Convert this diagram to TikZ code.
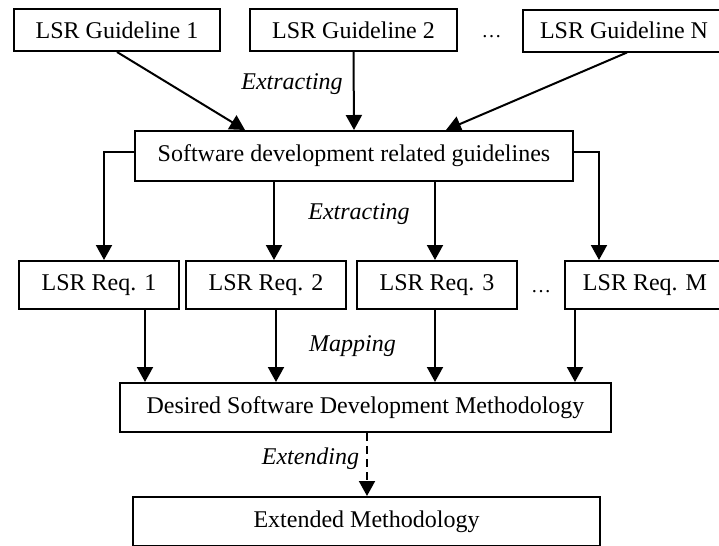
\documentclass[tikz,border=0pt]{standalone}
\usepackage{fontspec}
\setmainfont{Liberation Serif}
\usetikzlibrary{arrows.meta}

\begin{document}
\begin{tikzpicture}[>={Triangle[width=8pt,length=7.5pt]},x=0.5pt,y=-0.5pt,line width=1pt,
        box/.style={draw,minimum width=#1,minimum height=24pt,inner sep=0pt,font=\fontsize{12}{14}\selectfont},
        lbl/.style={inner sep=0pt,font=\fontsize{12}{14}\selectfont\itshape}]
            \useasboundingbox (0,0) rectangle (719,546);
            \clip (0,0) rectangle (719,546);
            % guidelines
            \node[box=103pt,minimum height=21pt] (g1) at (117,30) {LSR Guideline 1};
            \node[box=103.5pt,minimum height=21pt] (g2) at (353.5,30) {LSR Guideline 2};
            \node[box=101pt,minimum height=21pt] (gN) at (624,30.5) {LSR Guideline N};
            \node[inner sep=0pt] (gdots) at (491.5,37) {\ldots};
            \node[box=219pt,minimum height=25pt] (soft) at (354,156) {Software development related guidelines};
            % requirements
            \node[box=80pt] (r1) at (99,285) {LSR Req. 1};
            \node[box=80pt] (r2) at (266,285) {LSR Req. 2};
            \node[box=80pt] (r3) at (437,285) {LSR Req. 3};
            \node[box=80pt] (rM) at (645,285) {LSR Req. M};
            \node[inner sep=0pt] (rdots) at (541,291.5) {\ldots};
            \node[box=245.5pt,minimum height=24.5pt] (des) at (365.5,407.5) {Desired Software Development Methodology};
            \node[box=233.5pt,minimum height=24.5pt] (ext) at (366.5,521.5) {Extended Methodology};
            % labels
            \node[lbl] (l1) at (292,84) {Extracting};
            \node[lbl] (l2) at (359,214) {Extracting};
            \node[lbl] (l3) at (352.5,346.5) {Mapping};
            \node[lbl] (l4) at (310.5,458.5) {Extending};
            % arrows
            \draw[->] (g1.south) -- ([xshift=-54.5pt]soft.north);
            \draw[->] (g2.south) -- (soft.north);
            \draw[->] ([xshift=1.5pt]gN.south) -- ([xshift=-64pt]soft.north east);
            \draw[->] ([yshift=2pt]soft.west) -| ([xshift=2.5pt]r1.north);
            \draw[->] ([xshift=4pt]r2.north |- soft.south) -- ([xshift=4pt]r2.north);
            \draw[->] ([xshift=-1pt]r3.north |- soft.south) -- ([xshift=-1pt]r3.north);
            \draw[->] ([yshift=2pt]soft.east) -| ([xshift=17.5pt]rM.north west);
            \draw[->] ([xshift=23pt]r1.south) -- ([xshift=23pt]r1.south |- des.north);
            \draw[->] ([xshift=5pt]r2.south) -- ([xshift=5pt]r2.south |- des.north);
            \draw[->] ([xshift=-1pt]r3.south) -- ([xshift=-1pt]r3.south |- des.north);
            \draw[->] ([xshift=5.5pt]rM.south west) -- ([xshift=5.5pt]rM.south west |- des.north);
            \draw[->,dash pattern=on 4pt off 2.5pt] ([xshift=0.75pt]des.south) -- ([xshift=0.25pt]ext.north);
        \end{tikzpicture}
\end{document}
